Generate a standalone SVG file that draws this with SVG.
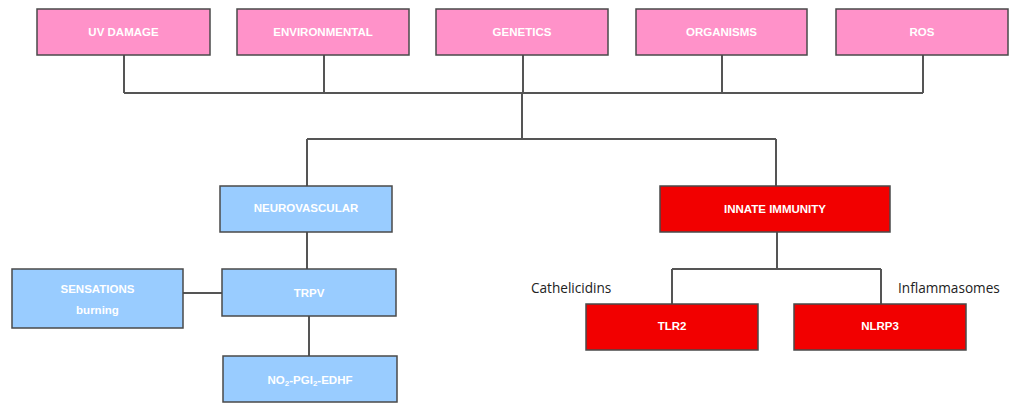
<svg xmlns="http://www.w3.org/2000/svg" width="1009" height="405" viewBox="0 0 1009 405">
<style>
.box{stroke:#4a4a4a;stroke-width:1.5}
.pink{fill:#ff92c9}
.blue{fill:#99ccff}
.red{fill:#f20000}
.t{font-family:"Liberation Sans",Arial,sans-serif;font-size:11.5px;font-weight:bold;fill:#ffffff;text-anchor:middle;dominant-baseline:central}
.lbl{font-family:"Open Sans","Liberation Sans",sans-serif;font-size:13.6px;fill:#222}
.c{fill:none;stroke:#555;stroke-width:2}
</style>
<rect width="1009" height="405" fill="#ffffff"/>
<g id="connectors">
<path class="c" d="M124 55V93M324 55V93M523 55V93M722 55V93M923 55V93M124 93H923"/>
<path class="c" d="M522 93V139M307 139H776M307 139V186M776 139V186"/>
<path class="c" d="M307 232V269M183 293H222M309 316V356"/>
<path class="c" d="M777 232V269M672 269H881M672 269V304M881 269V304"/>
</g>
<g id="uv-damage"><rect class="box pink" x="37" y="9" width="173" height="46"/><text class="t" x="123.5" y="32">UV DAMAGE</text></g>
<g id="environmental"><rect class="box pink" x="237" y="9" width="172" height="46"/><text class="t" x="323" y="32">ENVIRONMENTAL</text></g>
<g id="genetics"><rect class="box pink" x="436" y="9" width="172" height="46"/><text class="t" x="522" y="32">GENETICS</text></g>
<g id="organisms"><rect class="box pink" x="636" y="9" width="171" height="46"/><text class="t" x="721.5" y="32">ORGANISMS</text></g>
<g id="ros"><rect class="box pink" x="836" y="9" width="172" height="46"/><text class="t" x="922" y="32">ROS</text></g>
<g id="neurovascular"><rect class="box blue" x="220" y="186" width="172" height="46"/><text class="t" x="306" y="208">NEUROVASCULAR</text></g>
<g id="trpv"><rect class="box blue" x="222" y="269" width="174" height="47"/><text class="t" x="309" y="293">TRPV</text></g>
<g id="sensations"><rect class="box blue" x="12" y="269" width="171" height="59"/><text class="t" x="97.5" y="289">SENSATIONS</text><text class="t" x="97.5" y="310">burning</text></g>
<g id="no-pgi-edhf"><rect class="box blue" x="223" y="356" width="174" height="46"/><text class="t" x="310" y="380">NO<tspan font-size="8" dy="3">2</tspan><tspan dy="-3">-PGI</tspan><tspan font-size="8" dy="3">2</tspan><tspan dy="-3">-EDHF</tspan></text></g>
<g id="innate-immunity"><rect class="box red" x="660" y="186" width="230" height="46"/><text class="t" x="775" y="209">INNATE IMMUNITY</text></g>
<g id="tlr2"><rect class="box red" x="586" y="304" width="172" height="46"/><text class="t" x="672" y="326">TLR2</text></g>
<g id="nlrp3"><rect class="box red" x="794" y="304" width="172" height="46"/><text class="t" x="880" y="326">NLRP3</text></g>
<text class="lbl" x="531" y="293">Cathelicidins</text>
<text class="lbl" x="898" y="293">Inflammasomes</text>
</svg>
